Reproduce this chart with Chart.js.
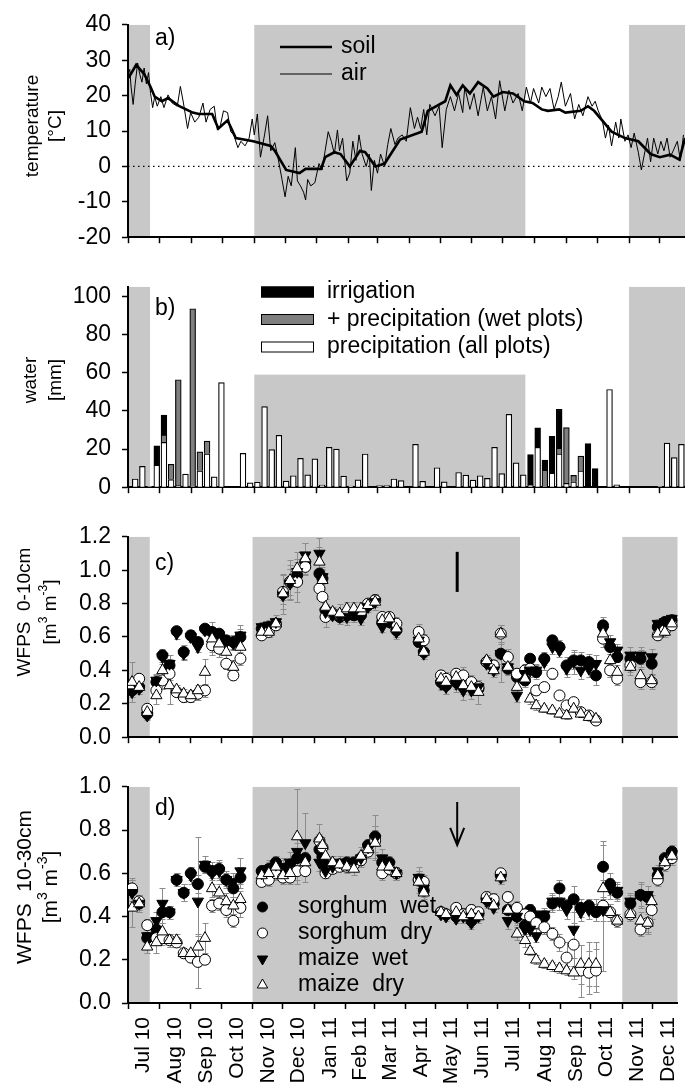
<!DOCTYPE html>
<html>
<head>
<meta charset="utf-8">
<title>Temperature, water input and WFPS</title>
<script src="https://cdn.jsdelivr.net/npm/chart.js@4.4.1/dist/chart.umd.min.js"></script>
<style>
  body { margin: 0; background: #fff; }
  #wrap { position: relative; width: 685px; height: 1084px; overflow: hidden; }
  #wrap canvas { position: absolute; left: 0; }
</style>
</head>
<body>
<div id="wrap">
  <canvas id="panelA" width="685" height="262" style="top:0px"></canvas>
  <canvas id="panelB" width="685" height="250" style="top:262px"></canvas>
  <canvas id="panelC" width="685" height="250" style="top:512px"></canvas>
  <canvas id="panelD" width="685" height="322" style="top:762px"></canvas>
</div>
<script>
// x values are days counted from 1 Jul 2010
const X_MIN = 0, X_MAX = 542.5;
const monthStarts = [0, 31, 62, 92, 123, 153, 184, 215, 243, 274, 304, 335, 365, 396, 427, 457, 488, 518];
const monthMids = [15.5, 46.5, 77, 107.5, 138, 168.5, 199.5, 229, 258.5, 289, 319.5, 350, 380.5, 411.5, 442, 472.5, 503, 533.5];
const monthLabels = ['Jul 10', 'Aug 10', 'Sep 10', 'Oct 10', 'Nov 10', 'Dec 10', 'Jan 11', 'Feb 11', 'Mar 11',
  'Apr 11', 'May 11', 'Jun 11', 'Jul 11', 'Aug 11', 'Sep 11', 'Oct 11', 'Nov 11', 'Dec 11'];
const winterBands = [[0, 21.5], [123, 387], [488, 560]];
const markerDay = 325;

// a) temperature
const airDays = [0.5, 1.7, 3, 5, 7, 9.4, 11.5, 13.6, 15.7, 17.9,
  20, 22, 24, 26, 28.5, 32, 35, 39, 43, 48,
  51, 54, 58, 61, 65, 69, 73, 76, 80, 84,
  87, 90, 93, 97, 100, 103, 107, 110, 114, 118,
  121, 123, 126, 129, 133, 136, 139, 143, 146, 150,
  153, 156, 159, 163, 165, 168, 171, 173, 175, 178,
  182, 186, 189, 192, 195, 198, 201, 204, 206, 209,
  213, 216, 219, 222, 225, 228, 232, 235, 237, 240,
  243, 246, 250, 253, 256, 260, 263, 267, 271, 275,
  279, 282, 285, 288, 291, 294, 299, 303, 306, 310,
  314, 318, 322, 326, 328, 333, 337, 341, 346, 350,
  354, 358, 362, 367, 371, 375, 380, 384, 388, 392,
  395, 400, 403, 407, 411, 415, 419, 422, 426, 431,
  435, 439, 443, 448, 452, 455, 458, 462, 465, 468,
  471, 475, 478, 480, 484, 487, 490, 493, 497, 500,
  503, 506, 509, 512, 516, 519, 522, 525, 528, 531,
  535, 538, 541];
const airTemp = [26.5, 27.4, 22.4, 17.5, 23.3, 29.2, 26, 23.8, 27.8, 23.3,
  26.5, 20.6, 16.6, 19.7, 17, 19.7, 16.6, 20.2, 17.9, 17,
  22.6, 17.9, 10.7, 15.2, 12.5, 13.9, 17.9, 12.5, 16.1, 17,
  10.3, 11.6, 15.7, 15.2, 9.8, 8.9, 5.3, 7.1, 5.8, 8,
  13.4, 8.9, 14.8, 2.6, 8.9, 14.3, 4.4, 6.7, 2.6, -3.7,
  -8.6, -2.8, -5.5, 5.3, -4.1, -5.5, -7.3, -9.5, -3.7, -5.5,
  -4.6, 0.8, -1, 4.4, 9.8, 7.1, 3.5, 10.3, 4.4, 8,
  -4.1, -1.9, 7.1, 1.7, 8.9, 3.5, 0, 3.5, -6.8, 1.7,
  -1.9, 3.5, 0, 6.2, 10.7, 6.2, 8, 8.9, 7.1, 16.6,
  10.7, 13.9, 10.7, 16.1, 8.9, 17.5, 14.3, 17, 5.3, 16.1,
  19.7, 15.7, 20.6, 15.2, 22.4, 16.1, 20.6, 14.3, 22.4, 15.7,
  19.7, 13.4, 24.2, 15.7, 21.5, 17.9, 20.6, 15.7, 22.4, 17.9,
  22, 17.9, 22.4, 19.7, 22, 16.1, 19.7, 23.8, 17, 20.6,
  13.4, 17.5, 14.3, 19.7, 17, 18.4, 15.7, 13, 8, 11.6,
  5.8, 12.5, 8, 13.4, 7.1, 8.9, 5.3, 9.4, 4, -1,
  3.5, 8, 1.3, 8, 3.5, 7.1, 4.4, 8, 2.6, 4.4,
  7.1, 1.7, 8.9];
const soilDays = [0.5, 8, 16, 22, 26, 33, 39, 50, 63, 69,
  82, 88, 97, 105, 122, 139, 143, 154, 167, 173,
  188, 192, 201, 207, 216, 226, 231, 241, 250, 265,
  286, 292, 309, 314, 320, 326, 333, 341, 350, 356,
  365, 375, 386, 394, 403, 409, 420, 426, 441, 448,
  454, 471, 484, 497, 509, 518, 528, 537, 542.5];
const soilTemp = [25, 28.7, 26, 22.4, 19.7, 18.4, 19.3, 17, 15.2, 14.8,
  14.8, 10.7, 13, 8, 7.1, 5.8, 4.4, -1, -1.9, -0.7,
  -0.7, 2.6, 4, 3.5, 0, 4.4, 4, 0, 0.8, 7.6,
  9.8, 15.7, 18.4, 22.9, 20.2, 22.9, 20.6, 23.8, 22, 19.7,
  21, 20.6, 18.4, 17.9, 16.1, 15.7, 16.1, 15.2, 15.7, 17,
  15.7, 9.8, 8, 7.1, 3.5, 2.6, 3.3, 1.9, 8];

// b) weekly water input, mm
const weekDays = [7, 14, 21, 28, 35, 42, 49, 56, 63, 70,
  77, 84, 91, 98, 105, 112, 119, 126, 133, 140,
  147, 154, 161, 168, 175, 182, 189, 196, 203, 210,
  217, 224, 231, 238, 245, 252, 259, 266, 273, 280,
  287, 294, 301, 308, 315, 322, 329, 336, 343, 350,
  357, 364, 371, 378, 385, 392, 399, 406, 413, 420,
  427, 434, 441, 448, 455, 462, 469, 476, 483, 490,
  497, 504, 511, 518, 525, 532, 539];
const precipAll = [4.3, 10.9, 0.5, 11.5, 23.5, 4, 1, 6.9, 0.5, 8.6,
  17.5, 5.4, 54.8, 0, 0, 17.7, 2.3, 2.6, 42.2, 19.7,
  27.2, 3.2, 6, 15.1, 6.5, 14.8, 1.1, 20.9, 20, 5.8,
  0.6, 3.8, 17.4, 0, 0.9, 0.9, 4.3, 3.5, 0, 22.5,
  3.1, 0, 10.2, 2.8, 0, 7.7, 6.3, 3.7, 6, 4.6,
  20.9, 7.1, 38.2, 12.8, 6.5, 1.2, 20.9, 0.3, 7.4, 17.4,
  2, 2.8, 8.5, 0, 0, 0, 51.2, 1.2, 0, 0,
  0, 0, 0, 0.5, 23.1, 15.5, 22.5];
const precipWet = [0, 0, 0, 0, 3.9, 8, 55.3, 0, 93, 9.9,
  6.7, 0, 0, 0, 0, 0, 0, 0, 0, 0,
  0, 0, 0, 0, 0, 0, 0, 0, 0, 0,
  0, 0, 0, 0, 0, 0, 0, 0, 0, 0,
  0, 0, 0, 0, 0, 0, 0, 0, 0, 0,
  0, 0, 0, 0, 0, 0, 0, 8.6, 0, 3.1,
  29.2, 3.4, 7.8, 0, 0, 0, 0, 0, 0, 0,
  0, 0, 0, 0, 0, 0, 0];
const irrigation = [0, 0, 0, 10.2, 10.4, 0, 0, 0, 0, 0,
  0, 0, 0, 0, 0, 0, 0, 0, 0, 0,
  0, 0, 0, 0, 0, 0, 0, 0, 0, 0,
  0, 0, 0, 0, 0, 0, 0, 0, 0, 0,
  0, 0, 0, 0, 0, 0, 0, 0, 0, 0,
  0, 0, 0, 0, 0, 15.9, 10.2, 5.3, 19.2, 20.3,
  0, 0, 0, 22.8, 9.8, 0, 0, 0, 0, 0,
  0, 0, 0, 0, 0, 0, 0];

// c), d) WFPS sampling dates
const sampleDays = [4, 11, 19, 28, 34, 41, 48, 55, 62, 69,
  76, 83, 90, 97, 104, 111, 132, 139, 146, 153,
  160, 167, 175, 189, 192, 195, 202, 209, 216, 223,
  230, 237, 244, 251, 258, 265, 287, 292, 309, 314,
  324, 331, 339, 346, 354, 361, 368, 375, 384, 392,
  397, 403, 411, 419, 426, 433, 440, 447, 455, 462,
  469, 476, 483, 496, 506, 513, 517, 523, 530, 537];

// c) WFPS 0-10 cm
const cSorghumWet = [0.28, 0.30, 0.14, 0.33, 0.49, 0.43, 0.635, 0.51, 0.61, 0.57,
  0.65, 0.63, 0.62, 0.58, 0.57, 0.60, 0.65, 0.66, 0.68, 0.86,
  0.93, 0.97, 1.05, 0.98, 0.95, 0.76, 0.74, 0.72, 0.73, 0.73,
  0.73, 0.79, 0.82, 0.69, 0.69, 0.64, 0.57, 0.51, 0.33, 0.31,
  0.33, 0.30, 0.30, 0.29, 0.45, 0.42, 0.50, 0.41, 0.36, 0.34,
  0.47, 0.39, 0.47, 0.58, 0.54, 0.43, 0.46, 0.46, 0.45, 0.37,
  0.67, 0.54, 0.48, 0.47, 0.47, null, 0.44, 0.66, 0.69, 0.70];
const cSorghumDry = [0.30, 0.35, 0.17, 0.28, 0.34, 0.38, 0.27, 0.24, 0.24, 0.26,
  0.28, 0.55, 0.53, 0.44, 0.37, 0.47, 0.61, 0.63, 0.67, 0.87,
  0.93, 0.93, 1.02, 0.89, 0.84, 0.72, 0.74, 0.73, 0.74, 0.75,
  0.75, 0.80, 0.82, 0.72, 0.72, 0.68, 0.63, 0.58, 0.37, 0.35,
  0.38, 0.37, 0.33, 0.30, 0.45, 0.43, 0.62, 0.48, 0.38, 0.40,
  0.41, 0.28, 0.30, 0.38, 0.25, 0.19, 0.21, 0.15, 0.13, 0.10,
  0.59, 0.40, 0.35, 0.43, 0.33, null, 0.33, 0.61, 0.64, 0.67];
const cMaizeWet = [0.27, 0.29, 0.13, 0.34, 0.48, 0.44, 0.62, 0.50, 0.60, 0.54,
  0.64, 0.62, 0.61, 0.57, 0.56, 0.61, 0.66, 0.67, 0.69, 0.85,
  0.92, 0.99, 1.09, 1.10, 0.96, 0.75, 0.73, 0.72, 0.72, 0.74,
  0.71, 0.78, 0.81, 0.66, 0.69, 0.63, 0.58, 0.50, 0.32, 0.30,
  0.32, 0.28, 0.28, 0.30, 0.44, 0.40, 0.50, 0.42, 0.25, 0.38,
  0.40, 0.40, 0.45, 0.54, 0.52, 0.41, 0.45, 0.40, 0.41, 0.44,
  0.64, 0.57, 0.52, 0.49, 0.49, null, 0.48, 0.68, 0.69, 0.71];
const cMaizeDry = [0.33, 0.30, 0.15, 0.25, 0.40, 0.31, 0.285, 0.26, 0.25, 0.28,
  0.39, 0.59, 0.56, 0.51, 0.42, 0.54, 0.63, 0.63, 0.68, 0.86,
  0.94, 1.01, 1.07, 1.05, 0.94, 0.78, 0.75, 0.74, 0.77, 0.77,
  0.77, 0.79, 0.81, 0.70, 0.71, 0.65, 0.59, 0.51, 0.35, 0.33,
  0.36, 0.31, 0.30, 0.27, 0.46, 0.40, 0.62, 0.42, 0.30, 0.35,
  0.23, 0.19, 0.17, 0.16, 0.14, 0.13, 0.17, 0.14, 0.12, 0.11,
  0.62, 0.46, 0.39, 0.42, 0.37, null, 0.34, 0.62, 0.63, 0.68];
const cErrSW = [.07, .03, .03, .04, .04, .04, .02, .04, .03, .03,
  .03, .03, .03, .03, .04, .05, .03, .03, .03, .04,
  .08, .10, .04, .08, .06, .04, .03, .03, .04, .03,
  .04, .03, .04, .03, .03, .04, .03, .03, .04, .05,
  .04, .04, .04, .04, .02, .04, .06, .04, .03, .04,
  .03, .04, .04, .03, .04, .05, .05, .05, .05, .06,
  .05, .04, .03, .04, .05, null, .06, .03, .03, .03];
const cErrSD = [.02, .02, .03, .04, .05, .04, .03, .03, .03, .04,
  .04, .04, .05, .03, .03, .04, .02, .03, .03, .10,
  .10, .12, .05, .06, .08, .06, .03, .04, .04, .06,
  .04, .03, .04, .03, .03, .04, .05, .04, .03, .04,
  .03, .05, .04, .04, .03, .03, .05, .05, .03, .04,
  .03, .03, .02, .03, .02, .02, .02, .02, .02, .01,
  .05, .04, .04, .04, .04, null, .04, .03, .03, .03];
const cErrMW = [.03, .03, .03, .04, .04, .05, .03, .04, .03, .03,
  .03, .03, .03, .04, .04, .06, .03, .03, .04, .05,
  .09, .08, .07, .09, .06, .04, .03, .03, .05, .03,
  .04, .03, .05, .03, .03, .04, .03, .03, .04, .04,
  .05, .06, .05, .04, .02, .04, .17, .04, .04, .05,
  .04, .04, .05, .04, .04, .05, .07, .05, .05, .05,
  .04, .04, .04, .05, .05, null, .05, .03, .03, .03];
const cErrMD = [.12, .04, .03, .05, .07, .11, .03, .03, .03, .03,
  .08, .10, .04, .04, .04, .04, .03, .03, .03, .12,
  .12, .10, .09, .09, .06, .05, .03, .06, .04, .04,
  .04, .03, .05, .03, .04, .04, .05, .04, .03, .04,
  .04, .05, .05, .07, .03, .03, .05, .05, .03, .04,
  .03, .03, .02, .02, .02, .02, .02, .02, .02, .02,
  .04, .04, .04, .05, .04, null, .04, .03, .03, .03];

// d) WFPS 10-30 cm
const dSorghumWet = [0.52, 0.46, 0.30, 0.34, 0.42, 0.42, 0.57, 0.51, 0.60, 0.55,
  0.63, 0.61, 0.62, 0.57, 0.53, 0.58, 0.61, 0.62, 0.65, 0.62,
  0.64, 0.67, 0.67, 0.71, 0.68, 0.64, 0.63, 0.64, 0.65, 0.65,
  0.67, 0.73, 0.77, 0.65, 0.65, 0.60, 0.57, 0.52, 0.42, 0.41,
  0.40, 0.41, 0.38, 0.41, 0.48, 0.46, 0.59, 0.43, 0.40, 0.36,
  0.43, 0.40, 0.40, 0.46, 0.53, 0.45, 0.48, 0.44, 0.45, 0.42,
  0.63, 0.55, 0.51, 0.46, 0.50, 0.49, null, 0.59, 0.67, 0.70];
const dSorghumDry = [0.53, 0.47, 0.36, 0.30, 0.30, 0.29, 0.28, 0.23, 0.21, 0.19,
  0.20, 0.45, 0.46, 0.43, 0.38, 0.44, 0.56, 0.57, 0.60, 0.58,
  0.58, 0.61, 0.61, 0.75, 0.72, 0.60, 0.62, 0.63, 0.63, 0.64,
  0.66, 0.70, 0.75, 0.60, 0.62, 0.60, 0.57, 0.56, 0.42, 0.41,
  0.44, 0.41, 0.43, 0.42, 0.49, 0.48, 0.60, 0.49, 0.44, 0.41,
  0.40, 0.37, 0.35, 0.32, 0.28, 0.21, 0.27, 0.15, 0.14, 0.15,
  0.45, 0.42, 0.38, 0.41, 0.34, 0.37, 0.43, 0.57, 0.64, 0.67];
const dMaizeWet = [0.51, 0.46, 0.31, 0.38, 0.46, 0.42, 0.57, 0.51, 0.59, 0.47,
  0.64, 0.60, 0.61, 0.57, 0.56, 0.61, 0.60, 0.62, 0.64, 0.62,
  0.65, 0.70, 0.74, 0.65, 0.66, 0.61, 0.63, 0.65, 0.64, 0.65,
  0.67, 0.72, 0.76, 0.67, 0.64, 0.60, 0.58, 0.53, 0.41, 0.40,
  0.39, 0.40, 0.37, 0.40, 0.47, 0.44, 0.58, 0.38, 0.40, 0.34,
  0.34, 0.31, 0.41, 0.47, 0.47, 0.43, 0.34, 0.42, 0.43, 0.43,
  0.43, 0.53, 0.52, 0.47, 0.50, 0.50, null, 0.61, 0.66, 0.69];
const dMaizeDry = [0.44, 0.46, 0.26, 0.28, 0.33, 0.29, 0.29, 0.23, 0.23, 0.26,
  0.30, 0.53, 0.51, 0.47, 0.45, 0.48, 0.59, 0.60, 0.63, 0.59,
  0.60, 0.77, 0.65, 0.76, 0.73, 0.68, 0.65, 0.64, 0.63, 0.62,
  0.68, 0.71, 0.74, 0.63, 0.63, 0.60, 0.56, 0.51, 0.42, 0.41,
  0.42, 0.40, 0.41, 0.40, 0.48, 0.45, 0.58, 0.43, 0.32, 0.29,
  0.24, 0.20, 0.18, 0.17, 0.16, 0.15, 0.14, 0.18, 0.18, 0.18,
  0.53, 0.42, 0.38, 0.41, 0.38, 0.37, 0.47, 0.59, 0.65, 0.68];
const dErrSW = [.05, .03, .04, .04, .05, .03, .03, .04, .03, .04,
  .03, .03, .04, .04, .04, .05, .03, .03, .03, .04,
  .03, .07, .06, .03, .03, .03, .02, .03, .03, .03,
  .03, .03, .10, .04, .03, .03, .04, .04, .02, .02,
  .02, .03, .03, .03, .03, .02, .03, .03, .03, .03,
  .03, .03, .03, .04, .04, .03, .06, .04, .03, .04,
  .10, .05, .04, .04, .06, .03, null, .03, .03, .03];
const dErrSD = [.04, .03, .03, .03, .03, .03, .02, .02, .02, .12,
  .02, .03, .03, .03, .03, .04, .02, .03, .03, .03,
  .03, .04, .05, .03, .04, .02, .02, .02, .02, .02,
  .03, .03, .05, .03, .03, .03, .03, .03, .02, .02,
  .02, .02, .03, .02, .03, .03, .02, .03, .03, .03,
  .03, .03, .03, .03, .04, .07, .10, .12, .10, .10,
  .30, .04, .03, .03, .03, .04, .04, .03, .03, .03];
const dErrMW = [.07, .04, .05, .04, .07, .03, .03, .04, .04, .30,
  .04, .05, .04, .03, .04, .06, .03, .04, .04, .05,
  .05, .06, .14, .04, .03, .03, .03, .03, .03, .03,
  .03, .04, .06, .04, .03, .03, .05, .04, .02, .02,
  .02, .03, .03, .03, .03, .02, .03, .04, .04, .03,
  .03, .03, .03, .04, .04, .04, .13, .04, .04, .05,
  .05, .05, .04, .04, .05, .04, null, .03, .03, .03];
const dErrMD = [.09, .04, .03, .05, .04, .03, .03, .02, .02, .06,
  .07, .04, .04, .04, .04, .04, .03, .03, .04, .04,
  .04, .22, .05, .07, .04, .03, .03, .03, .03, .03,
  .04, .04, .08, .04, .03, .03, .05, .04, .02, .02,
  .02, .03, .03, .03, .03, .03, .03, .03, .03, .03,
  .02, .02, .02, .02, .02, .02, .03, .09, .10, .10,
  .04, .04, .03, .03, .04, .05, .03, .03, .03, .03];

// ---- styles ----
const FONT = '"Liberation Sans", Arial, Helvetica, sans-serif';
const BAND_COLOR = '#c8c8c8';
const BAR_GRAY = '#7f7f7f';
const ERR_COLOR = '#8c8c8c';

Chart.defaults.font.family = FONT;
Chart.defaults.color = '#000';

const markSW = { pointStyle: 'circle', pointRadius: 5.5, pointRotation: 0, backgroundColor: '#000' };
const markSD = { pointStyle: 'circle', pointRadius: 5.5, pointRotation: 0, backgroundColor: '#fff' };
const markMW = { pointStyle: 'triangle', pointRadius: 6.5, pointRotation: 180, backgroundColor: '#000' };
const markMD = { pointStyle: 'triangle', pointRadius: 6.5, pointRotation: 0, backgroundColor: '#fff' };

const ySup = [['[m'], ['3', true], [' m'], ['-3', true], [']']];

// extra drawing per canvas (canvas pixel coordinates)
const decor = {
  panelA: {
    letter: 'a)', letterDy: 14, titleCy: 126, titleSize: 19,
    titles: [{ x: 33, segs: [['temperature']] }, { x: 56, segs: [['[°C]']] }],
    lineLegend: { x0: 280, x1: 332, tx: 341, items: [{ y: 47, w: 2.6, label: 'soil' }, { y: 74, w: 1, label: 'air' }] }
  },
  panelB: {
    letter: 'b)', letterDy: 22, titleCy: 118, titleSize: 19, bandTops: [null, 59, null],
    titles: [{ x: 31, segs: [['water']] }, { x: 56, segs: [['[mm]']] }],
    boxLegend: { x: 261, w: 53, h: 11, tx: 327, items: [
      { y: 30, fill: '#000', label: 'irrigation' },
      { y: 57.5, fill: BAR_GRAY, label: '+ precipitation (wet plots)' },
      { y: 85, fill: '#fff', label: 'precipitation (all plots)' }] }
  },
  panelC: {
    letter: 'c)', letterDy: 27, titleCy: 100, titleSize: 19,
    titles: [{ x: 25, segs: [['WFPS  0-10cm']] }, { x: 51, segs: ySup }],
    markLine: { from: 0.87, to: 1.11 }
  },
  panelD: {
    letter: 'd)', letterDy: 22, titleCy: 125, titleSize: 21,
    titles: [{ x: 25, segs: [['WFPS  10-30cm']] }, { x: 51, segs: ySup }],
    arrow: { from: 0.93, to: 0.73, head: 0.08 },
    markLegend: { x: 262.5, tx: 298, items: [
      { y: 145, mark: markSW, label: 'sorghum  wet' },
      { y: 171, mark: markSD, label: 'sorghum  dry' },
      { y: 197, mark: markMW, label: 'maize  wet' },
      { y: 223, mark: markMD, label: 'maize  dry' }] }
  }
};

function drawRotated(ctx, segs, x, cy, size) {
  const supSize = Math.round(size * 0.65);
  ctx.save();
  ctx.translate(x, cy);
  ctx.rotate(-Math.PI / 2);
  ctx.textBaseline = 'middle';
  ctx.textAlign = 'left';
  const widths = segs.map(s => {
    ctx.font = (s[1] ? supSize : size) + 'px ' + FONT;
    return ctx.measureText(s[0]).width;
  });
  let pos = -widths.reduce((a, b) => a + b, 0) / 2;
  segs.forEach((s, i) => {
    ctx.font = (s[1] ? supSize : size) + 'px ' + FONT;
    ctx.fillText(s[0], pos, s[1] ? -size * 0.36 : 0);
    pos += widths[i];
  });
  ctx.restore();
}

const bandPlugin = {
  id: 'bands',
  beforeDraw(chart) {
    const a = chart.chartArea, xs = chart.scales.x, ys = chart.scales.y, ctx = chart.ctx;
    const tops = (decor[chart.canvas.id] || {}).bandTops || [];
    ctx.save();
    ctx.beginPath();
    ctx.rect(a.left, a.top, a.right - a.left, a.bottom - a.top);
    ctx.clip();
    ctx.fillStyle = BAND_COLOR;
    winterBands.forEach((b, i) => {
      const x0 = xs.getPixelForValue(b[0]), x1 = xs.getPixelForValue(b[1]);
      const top = tops[i] != null ? ys.getPixelForValue(tops[i]) : a.top;
      ctx.fillRect(x0, top, x1 - x0, a.bottom - top);
    });
    ctx.restore();
  }
};

const errorBarPlugin = {
  id: 'errorBars',
  beforeDatasetsDraw(chart) {
    const ys = chart.scales.y, ctx = chart.ctx;
    ctx.save();
    ctx.strokeStyle = ERR_COLOR;
    ctx.lineWidth = 1;
    chart.data.datasets.forEach((ds, i) => {
      const meta = chart.getDatasetMeta(i);
      ds.data.forEach((p, j) => {
        if (p == null || p.e == null) return;
        const el = meta.data[j];
        if (!el) return;
        const yt = Math.round(ys.getPixelForValue(p.y + p.e)) + 0.5;
        const yb = Math.round(ys.getPixelForValue(p.y - p.e)) + 0.5;
        const x = Math.round(el.x) + 0.5;
        ctx.beginPath();
        ctx.moveTo(x, yt); ctx.lineTo(x, yb);
        ctx.moveTo(x - 3, yt); ctx.lineTo(x + 3, yt);
        ctx.moveTo(x - 3, yb); ctx.lineTo(x + 3, yb);
        ctx.stroke();
      });
    });
    ctx.restore();
  }
};

const decorPlugin = {
  id: 'decor',
  afterDraw(chart) {
    const d = decor[chart.canvas.id];
    if (!d) return;
    const ctx = chart.ctx, a = chart.chartArea, xs = chart.scales.x, ys = chart.scales.y;
    ctx.save();
    ctx.fillStyle = '#000';
    ctx.strokeStyle = '#000';
    ctx.textAlign = 'left';
    ctx.textBaseline = 'middle';
    ctx.font = '23px ' + FONT;
    ctx.fillText(d.letter, a.left + 27, a.top + d.letterDy);
    d.titles.forEach(t => drawRotated(ctx, t.segs, t.x, d.titleCy, d.titleSize));

    ctx.font = '23px ' + FONT;
    if (d.lineLegend) {
      const L = d.lineLegend;
      L.items.forEach(it => {
        ctx.lineWidth = it.w;
        ctx.beginPath();
        ctx.moveTo(L.x0, it.y); ctx.lineTo(L.x1, it.y);
        ctx.stroke();
        ctx.fillText(it.label, L.tx, it.y);
      });
    }
    if (d.boxLegend) {
      const L = d.boxLegend;
      ctx.lineWidth = 1;
      L.items.forEach(it => {
        ctx.fillStyle = it.fill;
        ctx.fillRect(L.x, it.y - L.h / 2, L.w, L.h);
        ctx.strokeRect(L.x + 0.5, it.y - L.h / 2 + 0.5, L.w - 1, L.h - 1);
        ctx.fillStyle = '#000';
        ctx.fillText(it.label, L.tx, it.y);
      });
    }
    if (d.markLegend) {
      const L = d.markLegend;
      L.items.forEach(it => {
        ctx.fillStyle = it.mark.backgroundColor;
        ctx.lineWidth = 1;
        Chart.helpers.drawPoint(ctx, { pointStyle: it.mark.pointStyle, rotation: it.mark.pointRotation,
          radius: it.mark.pointRadius - 0.5, borderWidth: 1 }, L.x, it.y);
        ctx.fillStyle = '#000';
        ctx.fillText(it.label, L.tx, it.y);
      });
    }
    if (d.markLine) {
      const x = xs.getPixelForValue(markerDay);
      ctx.lineWidth = 3;
      ctx.beginPath();
      ctx.moveTo(x, ys.getPixelForValue(d.markLine.from));
      ctx.lineTo(x, ys.getPixelForValue(d.markLine.to));
      ctx.stroke();
    }
    if (d.arrow) {
      const x = xs.getPixelForValue(markerDay);
      const tip = ys.getPixelForValue(d.arrow.to);
      const wing = ys.getPixelForValue(d.arrow.to + d.arrow.head);
      ctx.lineWidth = 2;
      ctx.beginPath();
      ctx.moveTo(x, ys.getPixelForValue(d.arrow.from));
      ctx.lineTo(x, tip);
      ctx.moveTo(x - 7, wing); ctx.lineTo(x, tip); ctx.lineTo(x + 7, wing);
      ctx.stroke();
    }
    ctx.restore();
  }
};

// ---- axes ----
function timeAxis(withLabels) {
  return {
    type: 'linear', min: X_MIN, max: X_MAX, offset: false, z: 1,
    afterBuildTicks(scale) {
      const t = monthStarts.map(v => ({ value: v }));
      if (withLabels) monthMids.forEach(v => t.push({ value: v }));
      t.sort((p, q) => p.value - q.value);
      scale.ticks = t;
    },
    afterFit(scale) {
      scale.height = withLabels ? 81 : 12;
      scale.paddingLeft = 0;
      scale.paddingRight = 0;
    },
    border: { color: '#000', width: 2 },
    grid: {
      offset: false, drawOnChartArea: false, tickLength: 6, tickWidth: 1.5,
      tickColor: c => (c.tick && monthStarts.includes(c.tick.value)) ? '#000' : 'rgba(0,0,0,0)'
    },
    ticks: {
      display: withLabels, autoSkip: false, minRotation: 90, maxRotation: 90, padding: 8,
      font: { size: 21 },
      callback: v => { const i = monthMids.indexOf(v); return i < 0 ? '' : monthLabels[i]; }
    }
  };
}

function valueAxis(min, max, ticks, digits) {
  return {
    type: 'linear', min, max, z: 1,
    afterBuildTicks(scale) { scale.ticks = ticks.map(v => ({ value: v })); },
    afterFit(scale) { scale.width = 128; },
    border: { color: '#000', width: 2 },
    grid: { drawOnChartArea: false, tickLength: 6, tickWidth: 1.5, tickColor: '#000' },
    ticks: { padding: 11, font: { size: 23 }, callback: v => v.toFixed(digits) }
  };
}

function baseOptions(padTop, x, y) {
  return {
    responsive: false, devicePixelRatio: 1, animation: false,
    layout: { padding: { top: padTop, left: 0, right: 0, bottom: 0 } },
    plugins: { legend: { display: false }, tooltip: { enabled: false } },
    scales: { x, y }
  };
}

const plugins = [bandPlugin, errorBarPlugin, decorPlugin];

// a) temperature
new Chart(document.getElementById('panelA'), {
  type: 'line',
  data: {
    datasets: [
      { label: 'soil', order: 0, data: soilDays.map((d, i) => ({ x: d, y: soilTemp[i] })),
        borderColor: '#000', borderWidth: 2.6, pointRadius: 0, tension: 0 },
      { label: 'air', order: 1, data: airDays.map((d, i) => ({ x: d, y: airTemp[i] })),
        borderColor: '#000', borderWidth: 1, pointRadius: 0, tension: 0 },
      { label: 'zero', order: 2, data: [{ x: X_MIN, y: 0 }, { x: X_MAX, y: 0 }],
        borderColor: '#000', borderWidth: 1.2, borderDash: [1.5, 3.5], pointRadius: 0 }
    ]
  },
  options: baseOptions(21, timeAxis(false), valueAxis(-20, 40, [-20, -10, 0, 10, 20, 30, 40], 0)),
  plugins
});

// b) water input
function barSet(label, values, fill) {
  return {
    label, data: weekDays.map((d, i) => ({ x: d, y: values[i] || null })),
    backgroundColor: fill, borderColor: '#000', borderWidth: 1.2,
    barThickness: 5.8, stack: 'water'
  };
}
const optsB = baseOptions(9, timeAxis(false), valueAxis(0, 105, [0, 20, 40, 60, 80, 100], 0));
optsB.scales.x.stacked = true;
optsB.scales.y.stacked = true;
new Chart(document.getElementById('panelB'), {
  type: 'bar',
  data: {
    datasets: [
      barSet('precipitation (all plots)', precipAll, '#fff'),
      barSet('+ precipitation (wet plots)', precipWet, BAR_GRAY),
      barSet('irrigation', irrigation, '#000')
    ]
  },
  options: optsB,
  plugins
});

// c), d) WFPS
function pointSet(label, values, errors, mark, order) {
  const data = [];
  sampleDays.forEach((d, i) => {
    if (values[i] != null) data.push({ x: d, y: values[i], e: errors[i] });
  });
  return Object.assign({ label, data, order, borderColor: '#000', borderWidth: 1 }, mark);
}

new Chart(document.getElementById('panelC'), {
  type: 'scatter',
  data: {
    datasets: [
      pointSet('sorghum wet', cSorghumWet, cErrSW, markSW, 4),
      pointSet('sorghum dry', cSorghumDry, cErrSD, markSD, 3),
      pointSet('maize wet', cMaizeWet, cErrMW, markMW, 2),
      pointSet('maize dry', cMaizeDry, cErrMD, markMD, 1)
    ]
  },
  options: baseOptions(11, timeAxis(false), valueAxis(0, 1.2, [0, 0.2, 0.4, 0.6, 0.8, 1.0, 1.2], 1)),
  plugins
});

new Chart(document.getElementById('panelD'), {
  type: 'scatter',
  data: {
    datasets: [
      pointSet('sorghum wet', dSorghumWet, dErrSW, markSW, 4),
      pointSet('sorghum dry', dSorghumDry, dErrSD, markSD, 3),
      pointSet('maize wet', dMaizeWet, dErrMW, markMW, 2),
      pointSet('maize dry', dMaizeDry, dErrMD, markMD, 1)
    ]
  },
  options: baseOptions(12, timeAxis(true), valueAxis(0, 1.0, [0, 0.2, 0.4, 0.6, 0.8, 1.0], 1)),
  plugins
});
</script>
</body>
</html>
